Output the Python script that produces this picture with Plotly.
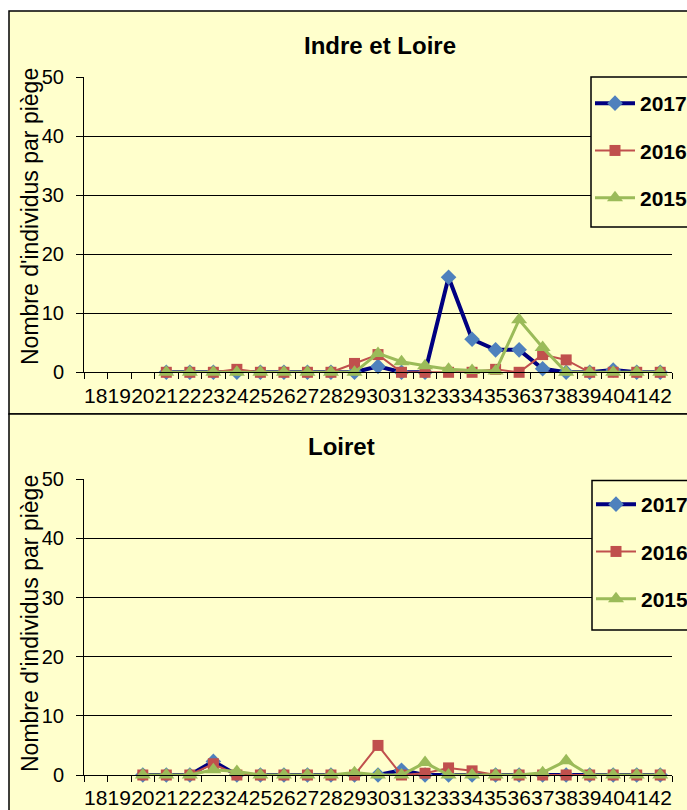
import plotly.graph_objects as go

# ---------------- data ----------------
weeks = [str(w) for w in range(18, 43)]

il_weeks = [str(w) for w in range(21, 43)]
il_2017 = [0, 0, 0, 0, 0, 0, 0, 0, 0, 1.0, 0, 0, 16.1, 5.6, 3.8, 3.8, 0.6, 0, 0, 0.4, 0, 0]
il_2016 = [0, 0, 0, 0.5, 0, 0, 0, 0, 1.5, 3.0, 0, 0, 0, 0, 0.5, 0, 3.0, 2.1, 0, 0, 0, 0]
il_2015 = [0, 0, 0, 0, 0, 0, 0, 0, 0, 3.2, 1.8, 1.1, 0.5, 0.3, 0.2, 8.9, 4.2, 0, 0, 0, 0, 0]

lo_weeks = [str(w) for w in range(20, 43)]
lo_2017 = [0, 0, 0, 2.3, 0, 0, 0, 0, 0, 0, 0, 0.8, 0, 0, 0, 0, 0, 0, 0, 0, 0, 0, 0]
lo_2016 = [0, 0, 0, 1.9, 0, 0, 0, 0, 0, 0, 5.0, 0, 0.3, 1.2, 0.7, 0, 0, 0, 0, 0, 0, 0, 0]
lo_2015 = [0, 0, 0, 0.9, 0.6, 0, 0, 0, 0, 0.4, 0, 0, 2.1, 0, 0, 0, 0, 0.4, 2.4, 0, 0, 0, 0]

panel_titles = ["Indre et Loire", "Loiret"]
y_title = "Nombre d'individus par piège"
series_names = ["2017", "2016", "2015"]

# ---------------- styles ----------------
W, H = 687, 810
FONT = "Liberation Sans, Arial, sans-serif"
BG = "#FFFFCC"
styles = {
    "2017": dict(line=dict(color="#000080", width=4), marker=dict(symbol="diamond", size=12, color="#4F81BD")),
    "2016": dict(line=dict(color="#C0504D", width=2), marker=dict(symbol="square", size=11, color="#C0504D")),
    "2015": dict(line=dict(color="#9BBB59", width=3), marker=dict(symbol="triangle-up", size=14, color="#9BBB59")),
}

def px_x(v):
    return v / W

def px_y(v):
    return 1 - v / H

fig = go.Figure()

panels = [
    (il_weeks, [il_2017, il_2016, il_2015], "x", "y", "legend"),
    (lo_weeks, [lo_2017, lo_2016, lo_2015], "x2", "y2", "legend2"),
]
for wk, series, xa, ya, lg in panels:
    for name, vals in zip(series_names, series):
        st = styles[name]
        fig.add_trace(go.Scatter(
            x=wk, y=vals, name=name, mode="lines+markers",
            line=st["line"], marker=dict(**st["marker"], line=dict(width=0)),
            xaxis=xa, yaxis=ya, legend=lg, legendgroup=lg + name, cliponaxis=False,
        ))

xdom = [px_x(84), px_x(672)]
ydoms = [[px_y(372.3), px_y(77)], [px_y(775), px_y(479.3)]]

xcommon = dict(
    type="category", categoryorder="array", categoryarray=weeks,
    range=[-0.5, 24.5], tickmode="linear", tick0=0, dtick=1, tickangle=0,
    tickson="boundaries", ticks="outside", ticklen=6, tickcolor="black",
    showline=True, linecolor="black", linewidth=1, showgrid=False, zeroline=False,
    tickfont=dict(family=FONT, size=21, color="black"), ticklabelstandoff=4,
    domain=xdom, fixedrange=True,
)
ycommon = dict(
    range=[0, 50], tickmode="linear", tick0=0, dtick=10,
    ticks="outside", ticklen=7, tickcolor="black",
    showline=True, linecolor="black", linewidth=1,
    showgrid=True, gridcolor="black", gridwidth=1, zeroline=False,
    tickfont=dict(family=FONT, size=20, color="black"), ticklabelstandoff=8,
    fixedrange=True,
)

legcommon = dict(
    xanchor="left", yanchor="top", bgcolor="rgba(0,0,0,0)", borderwidth=0,
    font=dict(family=FONT, size=21, color="black", weight="bold"),
    tracegroupgap=17, itemwidth=40,
)

fig.update_layout(
    width=W, height=H,
    margin=dict(l=0, r=0, t=0, b=0, autoexpand=False),
    paper_bgcolor="white", plot_bgcolor="rgba(0,0,0,0)",
    showlegend=True,
    xaxis=dict(**xcommon, anchor="y"),
    yaxis=dict(**ycommon, domain=ydoms[0], anchor="x"),
    xaxis2=dict(**xcommon, anchor="y2"),
    yaxis2=dict(**ycommon, domain=ydoms[1], anchor="x2"),
    legend=dict(**legcommon, x=px_x(590), y=px_y(83)),
    legend2=dict(**legcommon, x=px_x(591), y=px_y(484)),
    shapes=[
        dict(type="rect", xref="paper", yref="paper", x0=px_x(9), x1=1.05, y0=px_y(414), y1=px_y(11),
             fillcolor=BG, line=dict(color="black", width=1.5), layer="below"),
        dict(type="rect", xref="paper", yref="paper", x0=px_x(9), x1=1.05, y0=-0.05, y1=px_y(414),
             fillcolor=BG, line=dict(color="black", width=1.5), layer="below"),
        dict(type="rect", xref="paper", yref="paper", x0=px_x(591), x1=1.05, y0=px_y(227), y1=px_y(77),
             fillcolor=BG, line=dict(color="black", width=1.5), layer="above"),
        dict(type="rect", xref="paper", yref="paper", x0=px_x(592), x1=1.05, y0=px_y(630), y1=px_y(480.5),
             fillcolor=BG, line=dict(color="black", width=1.5), layer="above"),
    ],
    annotations=[
        dict(text=panel_titles[0], x=px_x(380), y=px_y(45.5), xref="paper", yref="paper",
             showarrow=False, xanchor="center", yanchor="middle",
             font=dict(family=FONT, size=24, color="black", weight="bold")),
        dict(text=panel_titles[1], x=px_x(341), y=px_y(447), xref="paper", yref="paper",
             showarrow=False, xanchor="center", yanchor="middle",
             font=dict(family=FONT, size=24, color="black", weight="bold")),
        dict(text=y_title, x=px_x(30), y=px_y(217), xref="paper", yref="paper", textangle=-90,
             showarrow=False, xanchor="center", yanchor="middle",
             font=dict(family=FONT, size=23, color="black")),
        dict(text=y_title, x=px_x(30), y=px_y(624), xref="paper", yref="paper", textangle=-90,
             showarrow=False, xanchor="center", yanchor="middle",
             font=dict(family=FONT, size=23, color="black")),
    ],
)

fig.write_html(
    "out.html",
    config={"displayModeBar": False},
    post_script="document.body.style.margin='0';document.body.style.overflow='hidden';",
)
